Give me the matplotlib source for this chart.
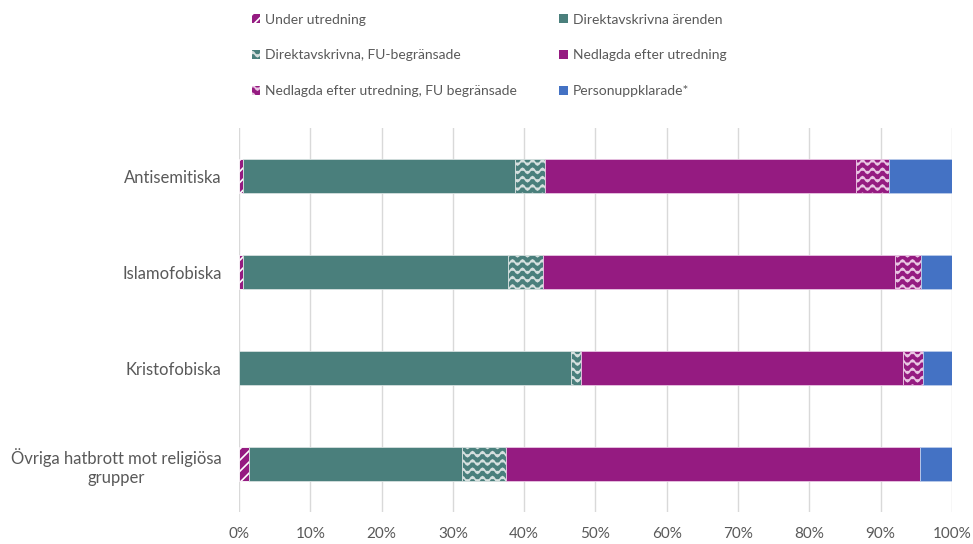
import matplotlib
matplotlib.use("Agg")
import matplotlib.pyplot as plt
import matplotlib.hatch as mhatch
from matplotlib.path import Path
from matplotlib.patches import Patch
from matplotlib.ticker import FuncFormatter
import numpy as np


# wavy hatch ("~"), drawn like the built-in horizontal hatch but as sine lines
class WaveHatch(mhatch.HatchPatternBase):
    periods = 10
    per_period = 8

    def __init__(self, hatch, density):
        self.num_lines = int(hatch.count("~") * density)
        self.pts = self.periods * self.per_period + 1
        self.num_vertices = self.num_lines * self.pts

    def set_vertices_and_codes(self, vertices, codes):
        steps, stepsize = np.linspace(0.0, 1.0, self.num_lines, False, retstep=True)
        steps += stepsize / 2.0
        xs = np.linspace(0.0, 1.0, self.pts)
        wave = 0.3 * stepsize * np.sin(2 * np.pi * self.periods * xs)
        for i, y0 in enumerate(steps):
            sl = slice(i * self.pts, (i + 1) * self.pts)
            vertices[sl, 0] = xs
            vertices[sl, 1] = y0 + wave
            codes[sl] = Path.LINETO
            codes[i * self.pts] = Path.MOVETO


mhatch._hatch_types.append(WaveHatch)
mhatch._validate_hatch_pattern = lambda h: None

categories = [
    "Antisemitiska",
    "Islamofobiska",
    "Kristofobiska",
    "Övriga hatbrott mot religiösa\ngrupper",
]
under = [0.5, 0.6, 0.0, 1.4]
direkt = [38.2, 37.1, 46.6, 29.9]
direkt_fu = [4.2, 4.9, 1.3, 6.1]
nedlagda = [43.6, 49.4, 45.3, 58.1]
nedlagda_fu = [4.7, 3.7, 2.8, 0.0]
person = [8.8, 4.3, 4.0, 4.5]

series = [
    ("Under utredning", under, "#951B81", "white", "///"),
    ("Direktavskrivna ärenden", direkt, "#4A7F7C", "#d6e0df", None),
    ("Direktavskrivna, FU-begränsade", direkt_fu, "#4A7F7C", "#d6e0df", "~~"),
    ("Nedlagda efter utredning", nedlagda, "#951B81", "#e9c6e3", None),
    ("Nedlagda efter utredning, FU begränsade", nedlagda_fu, "#951B81", "#e9c6e3", "~~"),
    ("Personuppklarade*", person, "#4472C4", "#b9cbea", None),
]

plt.rcParams["font.family"] = ["Lato", "DejaVu Sans"]
plt.rcParams["hatch.linewidth"] = 1.2

fig = plt.figure(figsize=(9.73, 5.44), dpi=100)
ax = fig.add_axes([0.2456, 0.0588, 0.7328, 0.7059])

ypos = np.arange(len(categories))
left = np.zeros(len(categories))
handles = []
for label, vals, color, ec, hatch in series:
    ax.barh(ypos, vals, left=left, height=0.35, color=color, edgecolor=ec,
            linewidth=0.6, hatch=hatch, zorder=3)
    left += np.array(vals)
    handles.append(Patch(facecolor=color, edgecolor=ec, linewidth=0, hatch=hatch, label=label))

ax.set_xlim(0, 100)
ax.set_ylim(3.5, -0.5)
ax.set_xticks(np.arange(0, 101, 10))
ax.xaxis.set_major_formatter(FuncFormatter(lambda v, p: f"{v:.0f}%"))
ax.set_yticks(ypos)
ax.set_yticklabels(categories, multialignment="center")
ax.tick_params(length=0, labelcolor="#595959")
ax.tick_params(axis="y", pad=12.5, labelsize=12)
ax.tick_params(axis="x", pad=11, labelsize=11)
ax.grid(axis="x", color="#d9d9d9", linewidth=1, zorder=0)
for s in ax.spines.values():
    s.set_visible(False)

order = [0, 2, 4, 1, 3, 5]
fig.legend([handles[i] for i in order], [handles[i].get_label() for i in order],
           ncol=2, loc="upper left", bbox_to_anchor=(0.249, 0.993), frameon=False,
           fontsize=10, labelcolor="#595959", handlelength=0.6, handleheight=0.6,
           handletextpad=0.35, labelspacing=1.72, columnspacing=3.05, borderaxespad=0.3)

fig.savefig("out.png", dpi=100)
